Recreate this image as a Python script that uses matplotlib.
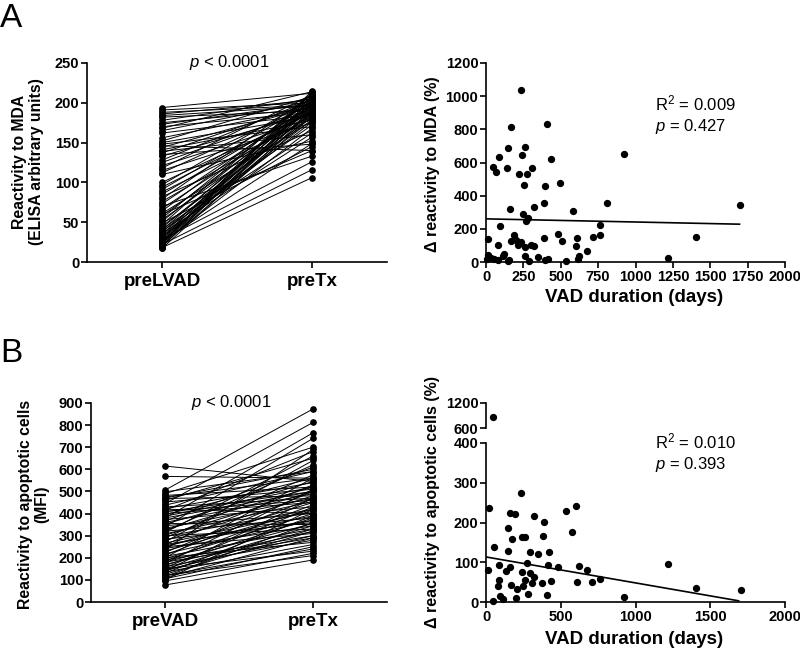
import numpy as np
import matplotlib
matplotlib.use('Agg')
import matplotlib.pyplot as plt

plt.rcParams['font.family'] = ['Liberation Sans', 'DejaVu Sans']
plt.rcParams['font.weight'] = 'bold'
plt.rcParams['mathtext.fontset'] = 'custom'
plt.rcParams['mathtext.rm'] = 'Liberation Sans:weight=normal'
plt.rcParams['mathtext.it'] = 'Liberation Sans:style=italic:weight=normal'
plt.rcParams['mathtext.bf'] = 'Liberation Sans:weight=bold'

# ---- panel A: anti-MDA reactivity, paired preLVAD -> preTx
mda_pre = [194, 191, 188, 186, 184, 182, 178, 175, 173, 170, 165, 162,
           152, 150, 148, 146, 144, 141, 139, 137, 135, 133,
           125, 121, 118, 115, 112, 110,
           97, 94, 91, 88, 85, 82, 79, 76, 73, 70, 67, 64, 61, 58,
           55, 53, 51, 49, 47, 45, 43, 41, 40, 38, 36, 35, 33, 32, 30, 29, 28, 27,
           26, 25, 24, 23, 22, 22, 21, 20, 19, 18, 17, 24, 31, 39,
           60, 100, 128, 156, 168, 26]
mda_post = [212, 200, 197, 203, 196, 190, 205, 193, 199, 188, 202, 185,
            208, 183, 170, 140, 195, 178, 160, 200, 148, 187,
            192, 181, 210, 175, 198, 152,
            206, 189, 201, 180, 195, 165, 210, 184, 198, 133, 191, 204, 177, 193,
            207, 186, 199, 145, 211, 182, 196, 172, 203, 188, 157, 200, 194, 179, 209, 190, 126, 198,
            185, 205, 168, 192, 213, 116, 183, 197, 201, 106, 189, 215, 176, 162,
            140, 187, 204, 194, 214, 149]

# ---- panel A: change in MDA reactivity vs VAD duration
mda_days = [236, 164, 407, 147, 260, 87, 238, 436, 47, 69, 138, 220, 273, 307, 253, 393, 498,
            922, 160, 322, 387, 249, 280, 269, 580, 811, 91, 762, 762, 11, 164, 189, 200, 231,
            213, 262, 302, 318, 391, 482, 507, 609, 604, 713, 673, 82, 122, 111, 16, 31, 56, 80,
            153, 258, 289, 351, 396, 418, 538, 613, 624, 7, 147, 1218, 1404, 1696]
mda_delta = [1040, 816, 832, 688, 694, 632, 646, 624, 570, 542, 568, 532, 530, 566, 466, 458, 476,
             654, 322, 334, 358, 292, 268, 246, 306, 354, 218, 222, 160, 136, 126, 160, 134, 120,
             100, 88, 100, 98, 144, 170, 128, 144, 94, 148, 66, 100, 46, 34, 40, 24, 20, 10,
             10, 34, 6, 30, 12, 16, 6, 20, 34, 16, 4, 24, 150, 345]
mda_fit_x = [7, 1696]
mda_fit_y = [260, 228]

# ---- panel B: reactivity to apoptotic cells, paired preVAD -> preTx
apo_pre = [615, 568, 506, 498, 490, 482, 475, 468, 460, 452, 445, 438, 430, 422, 415, 408, 400,
           395, 388, 380, 373, 366, 360, 352, 345, 340, 333, 326, 320, 314, 308, 302, 296, 290,
           284, 278, 272, 266, 260, 254, 248, 242, 236, 230, 224, 218, 212, 206, 200, 195, 190,
           185, 180, 175, 170, 165, 160, 155, 150, 145, 140, 135, 130, 125, 120, 115, 110, 105,
           100, 95, 77, 470, 410, 355, 300, 250, 200, 150, 120, 260, 320, 420, 180, 140, 380]
apo_post = [545, 560, 873, 590, 700, 520, 560, 480, 650, 510, 812, 590, 470, 540, 680, 500, 450,
            560, 520, 765, 430, 610, 490, 545, 400, 740, 470, 520, 380, 660, 455, 500, 420, 575,
            360, 480, 640, 410, 530, 390, 450, 345, 690, 420, 500, 370, 470, 330, 560, 400, 300,
            440, 355, 510, 320, 380, 280, 430, 345, 300, 470, 260, 390, 320, 240, 360, 290, 250,
            420, 220, 190, 600, 460, 350, 330, 310, 270, 230, 210, 370, 620, 400, 290, 330, 500]

# ---- panel B: change in apoptotic-cell reactivity vs VAD duration
apo_days = [47, 18, 236, 158, 191, 320, 538, 602, 391, 147, 578, 173, 238, 264, 382, 53, 147,
            296, 349, 420, 273, 413, 482, 13, 87, 158, 136, 624, 673, 238, 291, 318, 260, 87,
            764, 438, 373, 309, 711, 611, 80, 167, 209, 247, 280, 407, 204, 91, 113, 47, 922,
            1218, 1408, 1703]
apo_delta = [860, 236, 273, 224, 221, 216, 230, 242, 202, 185, 175, 158, 164, 164, 167, 139, 128,
             125, 120, 125, 97, 94, 88, 80, 94, 87, 78, 91, 81, 76, 72, 63, 56, 55,
             57, 54, 49, 47, 50, 51, 40, 43, 33, 39, 21, 17, 10, 15, 8, 3, 13,
             95, 36, 30]
apo_fit_x = [5, 1690]
apo_fit_y = [113, 3]

W, H = 800, 654


def px_axes(fig, left, top, right, bottom):
    return fig.add_axes([left / W, 1 - bottom / H, (right - left) / W, (bottom - top) / H])


def fig_text(fig, x, y, s, **kw):
    fig.text(x / W, 1 - y / H, s, **kw)


def style(ax):
    for side in ['top', 'right']:
        ax.spines[side].set_visible(False)
    for side in ['left', 'bottom']:
        ax.spines[side].set_linewidth(1.2)
    ax.tick_params(direction='out', length=4, width=1.2, labelsize=10.5, pad=1.5)


def paired(ax, pre, post, ymax, step, labels):
    for a, b in zip(pre, post):
        ax.plot([0, 1], [a, b], color='black', lw=0.7, zorder=1)
    ax.plot(np.zeros(len(pre)), pre, 'o', color='black', ms=3.8, zorder=2, clip_on=False)
    ax.plot(np.ones(len(post)), post, 'o', color='black', ms=3.8, zorder=2, clip_on=False)
    ax.set_xlim(-0.5, 1.5)
    ax.set_ylim(0, ymax)
    ax.set_yticks(np.arange(0, ymax + 1, step))
    ax.set_xticks([0, 1])
    ax.set_xticklabels(labels)
    style(ax)
    ax.tick_params(axis='x', labelsize=13.5, pad=4)
    ax.text(0.45, ymax, r'$\mathit{p}$ < 0.0001', ha='center', va='center',
            fontsize=12, fontweight='normal')


fig = plt.figure(figsize=(W / 100, H / 100), dpi=100)

# A left
ax = px_axes(fig, 87, 63, 387, 262)
paired(ax, mda_pre, mda_post, 250, 50, ['preLVAD', 'preTx'])
fig_text(fig, 28, 162, 'Reactivity to MDA\n(ELISA arbitrary units)', rotation=90,
         ha='center', va='center', fontsize=11.3, linespacing=1.1)

# A right
ax = px_axes(fig, 486, 63, 785, 262)
ax.scatter(mda_days, mda_delta, s=18, color='black', zorder=3, clip_on=False)
ax.plot(mda_fit_x, mda_fit_y, color='black', lw=1.2)
ax.set_xlim(0, 2000)
ax.set_ylim(0, 1200)
ax.set_xticks(np.arange(0, 2001, 250))
ax.set_yticks(np.arange(0, 1201, 200))
style(ax)
ax.text(1130, 958, 'R$^2$ = 0.009', ha='left', va='center', fontsize=12, fontweight='normal')
ax.text(1130, 820, r'$\mathit{p}$ = 0.427', ha='left', va='center', fontsize=12, fontweight='normal')
fig_text(fig, 433, 164, '\u0394 reactivity to MDA (%)', rotation=90, ha='center', va='center',
         fontsize=11.5)
fig_text(fig, 634, 297, 'VAD duration (days)', ha='center', va='center', fontsize=13.5)

# B left
ax = px_axes(fig, 91, 403, 387, 602)
paired(ax, apo_pre, apo_post, 900, 100, ['preVAD', 'preTx'])
fig_text(fig, 34, 504, 'Reactivity to apoptotic cells\n(MFI)', rotation=90,
         ha='center', va='center', fontsize=11.3, linespacing=1.1)

# B right, broken y axis
days = np.array(apo_days)
delta = np.array(apo_delta)
low = delta <= 400

ax = px_axes(fig, 486, 443, 785, 602)
ax.scatter(days[low], delta[low], s=18, color='black', zorder=3, clip_on=False)
ax.plot(apo_fit_x, apo_fit_y, color='black', lw=1.2)
ax.set_xlim(0, 2000)
ax.set_ylim(0, 400)
ax.set_xticks(np.arange(0, 2001, 500))
ax.set_yticks(np.arange(0, 401, 100))
style(ax)
ax.text(1130, 403, 'R$^2$ = 0.010', ha='left', va='center', fontsize=12, fontweight='normal')
ax.text(1130, 347, r'$\mathit{p}$ = 0.393', ha='left', va='center', fontsize=12, fontweight='normal')

top = px_axes(fig, 486, 403, 785, 428)
top.scatter(days[~low], delta[~low], s=18, color='black', zorder=3, clip_on=False)
top.set_xlim(0, 2000)
top.set_ylim(600, 1200)
top.set_yticks([600, 1200])
style(top)
top.spines['bottom'].set_visible(False)
top.set_xticks([])

fig_text(fig, 433, 502, '\u0394 reactivity to apoptotic cells (%)', rotation=90,
         ha='center', va='center', fontsize=11.5)
fig_text(fig, 634, 640, 'VAD duration (days)', ha='center', va='center', fontsize=13.5)

# panel letters
fig_text(fig, 0, 3, 'A', ha='left', va='top', fontsize=24, fontweight='normal')
fig_text(fig, 0, 338, 'B', ha='left', va='top', fontsize=24, fontweight='normal')

fig.savefig('out.png', dpi=100)
print('[OK] Saved: out.png')
